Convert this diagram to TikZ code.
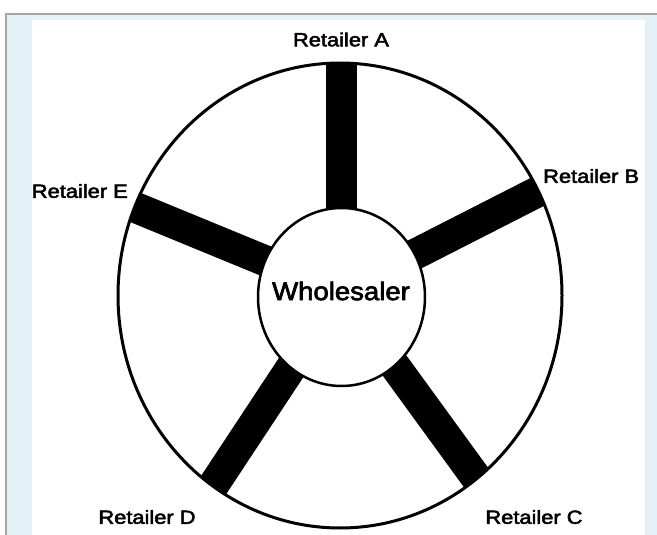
\documentclass[tikz,border=0pt]{standalone}
\usepackage{graphicx}
\usepackage{fontspec}
\setmainfont{Liberation Sans}
\newfontfamily\heavysans{Liberation Sans}[FakeBold=2.5]
\usetikzlibrary{shapes.geometric}
\definecolor{panelblue}{HTML}{E4F2F7}
\definecolor{framegray}{HTML}{A6A6A6}
\newcommand\stretchlbl[1]{\scalebox{1.15}[1]{#1}}
\begin{document}
\begin{tikzpicture}[x=1pt,y=-1pt,
  lbl/.style={inner sep=0pt, font=\heavysans\fontsize{19}{22}\selectfont},
  spoke/.style={line width=31pt, line cap=butt, black},
  rim/.style={draw=black, line width=3pt}]
\useasboundingbox (0,0) rectangle (657,535);
% frame and panels
\fill[white] (0,0) rectangle (657,535);
\fill[panelblue] (6,14) rectangle (657,535);
\fill[white] (32,20) rectangle (645,535);
\draw[framegray, line width=2pt] (6,535) -- (6,14) -- (657,14);
% spoke end coordinates
\coordinate (hub) at (341,292);
\coordinate (eA) at (341,30);
\coordinate (eB) at (596,162);
\coordinate (eC) at (515,531);
\coordinate (eD) at (178,539);
\coordinate (eE) at (76,183);
% spokes clipped by outer ring
\begin{scope}
  \clip (340,295.5) ellipse [x radius=222pt, y radius=232.5pt];
  \draw[spoke] (hub) -- (eA);
  \draw[spoke] (hub) -- (eB);
  \draw[spoke] (hub) -- (eC);
  \draw[spoke] (hub) -- (eD);
  \draw[spoke] (hub) -- (eE);
\end{scope}
\node[ellipse, rim, minimum width=444pt, minimum height=465pt, inner sep=0pt] (ring) at (340,295.5) {};
\node[ellipse, draw=black, line width=2.5pt, fill=white, minimum width=167pt, minimum height=178pt, inner sep=0pt] (w) at (341.5,297) {};
\node[inner sep=0pt, font=\heavysans\fontsize{25.5}{30}\selectfont] (wl) at (341,291) {\scalebox{1.08}[1]{Wholesaler}};
% labels
\node[lbl] (rA) at (341,39.5) {\stretchlbl{Retailer A}};
\node[lbl, anchor=west] (rB) at (543,176) {\stretchlbl{Retailer B}};
\node[lbl, anchor=east] (rE) at (128,191) {\stretchlbl{Retailer E}};
\node[lbl] (rD) at (147,517) {\stretchlbl{Retailer D}};
\node[lbl] (rC) at (534,517) {\stretchlbl{Retailer C}};
\end{tikzpicture}
\end{document}
